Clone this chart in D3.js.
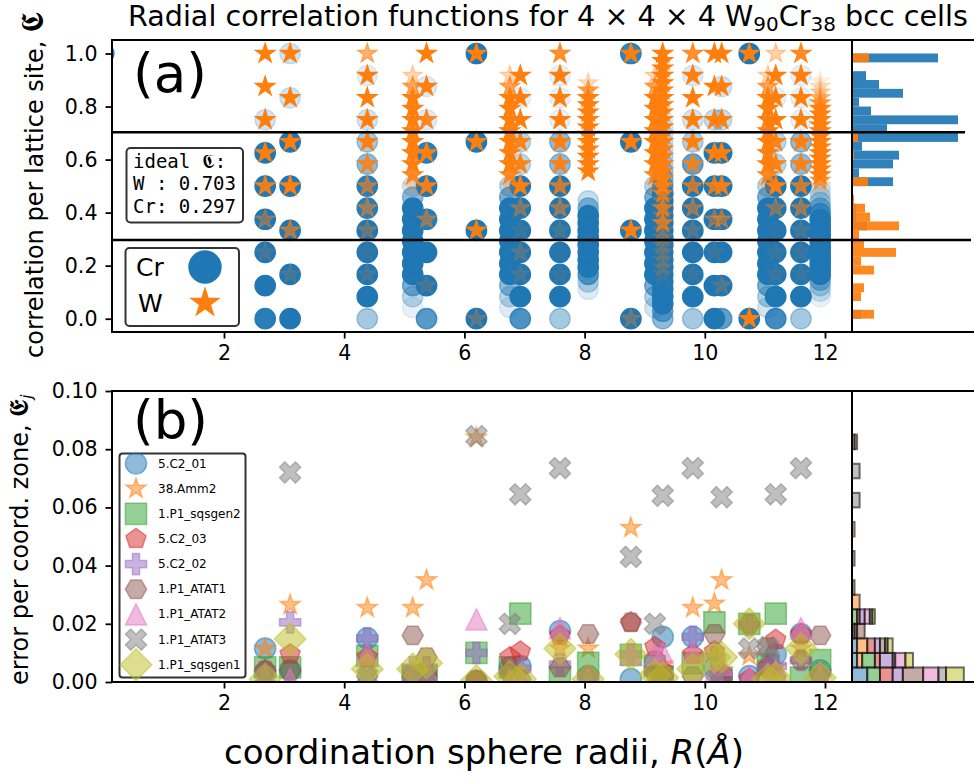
<!DOCTYPE html>
<html>
<head>
<meta charset="utf-8">
<script src="https://cdn.jsdelivr.net/npm/d3@7"></script>
<style>
html, body { margin: 0; padding: 0; background: #fff; }
svg { display: block; }
text { font-family: "DejaVu Sans", sans-serif; fill: #000; }
</style>
</head>
<body>
<script>
// correlation ladders, the values a shell can take
const v1 = [0, 1];
const v3 = [0, .333, .667, 1];
const v6 = [0, .167, .333, .5, .667, .833, 1];
const v8 = [0, .125, .25, .375, .5, .625, .75, .875, 1];
const v12 = [0, .083, .167, .25, .333, .417, .5, .583, .667, .75, .833, .917, 1];
const v24 = [0, .042, .083, .125, .167, .208, .25, .292, .333, .375, .417, .458, .5, .542, .583, .625, .667, .708, .75, .792, .833, .875, .917, .958, 1];
const v36 = [0, .028, .056, .083, .111, .139, .167, .194, .222, .25, .278, .306, .333, .361, .389, .417, .444, .472, .5, .528, .556, .583, .611, .639, .667, .694, .722, .75, .778, .806, .833, .861, .889, .917, .944, .972, 1];
const v48 = [0, .021, .042, .063, .083, .104, .125, .146, .167, .188, .208, .229, .25, .271, .292, .313, .333, .354, .375, .396, .417, .438, .458, .479, .5, .521, .542, .563, .583, .604, .625, .646, .667, .688, .708, .729, .75, .771, .792, .813, .833, .854, .875, .896, .917, .938, .958, .979, 1];

const shellR = [0, 2.685, 3.1, 4.384, 5.14, 5.37, 6.2, 6.756, 6.93, 7.59, 8.06, 8.77, 9.17, 9.3, 9.8, 10.16, 10.28, 10.74, 11.05, 11.18, 11.6, 11.92];
const shellLadder = [v1, v8, v6, v12, v24, v8, v3, v24, v12, v12, v36, v3, v24, v36, v12, v8, v8, v1, v24, v12, v12, v48];

// how often each ladder value occurs, 0..1, per shell
const crFreq = [
  [0, 1],
  [.95, 1, 1, 1, 1, 1, .2, 0, 0],
  [1, 1, 1, 1, 1, .2, .2],
  [.4, 1, 1, 1, 1, .95, .95, .5, .4, .2, 0, .12, 0],
  [0, .1, .3, .6, 1, 1, 1, 1, 1, 1, 1, .5, .2, 0, 0, 0, 0, 0, 0, 0, 0, 0, 0, 0, 0],
  [.75, 1, 1, .95, 1, .95, .15, .15, 0],
  [1, 1, 1, 1],
  [0, .15, .3, .5, 1, 1, 1, 1, 1, 1, 1, .6, .3, 0, 0, 0, 0, 0, 0, 0, 0, 0, 0, 0, 0],
  [.8, 1, 1, 1, 1, 1, 1, .3, .3, 0, .1, 0, 0],
  [.4, 1, 1, 1, 1, 1, 1, .5, .5, .1, .1, .1, 0],
  [0, 0, 0, 0, .15, .3, .7, 1, 1, 1, 1, 1, 1, 1, 1, .5, .25, 0, 0, 0, 0, 0, 0, 0, 0, 0, 0, 0, 0, 0, 0, 0, 0, 0, 0, 0, 0],
  [1, 1, 1, .9],
  [0, .2, .35, .6, 1, 1, 1, 1, 1, 1, 1, .6, .3, 0, 0, 0, 0, 0, 0, 0, 0, 0, 0, 0, 0],
  [.5, .6, 1, 1, 1, 1, 1, 1, 1, 1, 1, 1, 1, 1, 1, 1, 1, 1, .7, .5, .4, .25, .25, .2, .2, .15, .15, .1, 0, 0, 0, 0, 0, 0, 0, 0, 0],
  [.4, 1, 1, 1, 1, 1, 1, .7, .35, .2, 0, .15, 0],
  [1, 1, 1, 1, 1, 1, .25, 0, 0],
  [.7, 1, 1, 1, 1, 1, .25, .2, 0],
  [1, 1],
  [0, .2, .35, .6, 1, 1, 1, 1, 1, 1, 1, .6, .3, 0, 0, 0, 0, 0, 0, 0, 0, 0, 0, 0, 0],
  [.85, 1, 1, 1, 1, 1, 1, .3, .3, 0, .1, 0, 0],
  [.4, 1, 1, 1, 1, 1, 1, .5, .5, .1, .1, .1, 0],
  [0, 0, 0, 0, .1, .2, .3, .5, 1, 1, 1, 1, 1, 1, 1, 1, 1, 1, 1, .7, .5, .3, .2, .15, .1, 0, 0, 0, 0, 0, 0, 0, 0, 0, 0, 0, 0, 0, 0, 0, 0, 0, 0, 0, 0, 0, 0, 0, 0]
];
const wFreq = [
  [0, 0],
  [0, 0, .15, .4, .9, 1, 1, 1, 1],
  [0, .15, .6, 1, 1, 1, 1],
  [0, 0, .15, .08, .3, .5, .6, .85, 1, 1, 1, 1, .6],
  [0, 0, 0, 0, 0, 0, 0, 0, 0, 0, 0, 0, .2, .9, 1, 1, 1, 1, 1, 1, 1, .7, .3, 0, 0],
  [0, .15, 0, .45, .95, 1, .9, 1, 1],
  [.25, .95, 1, 1],
  [0, 0, 0, 0, 0, 0, 0, 0, 0, 0, 0, 0, .2, .9, 1, 1, 1, 1, 1, 1, 1, .7, .3, 0, 0],
  [0, 0, .15, .2, .1, .4, 1, .95, .95, 1, 1, 1, 0],
  [0, 0, .1, .05, .15, .5, .75, .95, 1, 1, 1, 1, .85],
  [0, 0, 0, 0, 0, 0, 0, 0, 0, 0, 0, 0, 0, 0, 0, 0, 0, 0, 0, 0, 1, 1, 1, 1, 1, 1, 1, 1, 1, 1, 1, .7, .25, 0, 0, 0, 0],
  [.3, 1, 1, 1],
  [0, 0, 0, 0, 0, 0, 0, 0, 0, 0, 0, 0, .2, .9, 1, 1, 1, 1, 1, 1, 1, .7, .3, 0, 0],
  [0, 0, 0, 0, 0, 0, .1, .15, .15, .15, .15, .2, .2, .7, .3, .7, .3, .7, .9, 1, 1, 1, 1, 1, 1, 1, 1, 1, 1, 1, 1, 1, 1, 1, 1, 1, 1],
  [0, 0, .1, .05, .2, .5, .7, .85, 1, 1, 1, 1, .85],
  [0, 0, .1, .4, .8, 1, 1, 1, 1],
  [0, .2, 0, .5, .9, 1, 1, 1, 1],
  [1, 1],
  [0, 0, 0, 0, 0, 0, 0, 0, 0, 0, 0, 0, .2, .9, 1, 1, 1, 1, 1, 1, 1, .7, .3, 0, 0],
  [0, 0, .1, .1, .05, .4, 1, .95, .95, 1, 1, 1, .35],
  [0, 0, .1, .1, .15, .5, .75, .95, 1, 1, 1, 1, .9],
  [0, 0, 0, 0, 0, 0, 0, 0, 0, 0, 0, 0, 0, 0, 0, 0, 0, 0, 0, 0, 0, 0, 0, 0, .15, .7, 1, 1, 1, 1, 1, 1, 1, 1, 1, 1, 1, 1, 1, .7, .5, .3, .2, .1, 0, 0, 0, 0, 0]
];

// side histogram of (a), 30 bins from 0 to 1, counts
const crHist = [9, 0, 0, 0, 0, 0, 0, 0, 0, 0, 15, 4, 4, 0, 0, 41, 7, 41, 47, 10, 106, 35, 106, 19, 7, 51, 27, 14, 0, 86];
const wHist = [22, 0, 9, 12, 0, 22, 9, 44, 12, 7, 47, 18, 13, 2, 0, 16, 0, 0, 2, 0, 6, 0, 0, 0, 0, 0, 0, 0, 0, 17];

const idealW = 0.703;
const idealCr = 0.297;

// panel (b), error per shell for each cell, shellR without the origin
const errorR = shellR.slice(1);
const seriesNames = ["5.C2_01", "38.Amm2", "1.P1_sqsgen2", "5.C2_03", "5.C2_02", "1.P1_ATAT1", "1.P1_ATAT2", "1.P1_ATAT3", "1.P1_sqsgen1"];
const seriesColors = ["#1f77b4", "#ff7f0e", "#2ca02c", "#d62728", "#9467bd", "#8c564b", "#e377c2", "#7f7f7f", "#bcbd22"];
const seriesMarkers = ["circle", "star", "square", "pentagon", "plus", "hexagon", "triangle", "cross", "diamond"];
const seriesErrors = [
  [.0115, .004, .015, .002, .002, .0005, .005, .0055, .0175, .002, .001, .007, .0155, .0155, .005, .002, .002, .005, .0095, .0165, .004],
  [.0115, .0265, .0255, .0255, .035, .084, .003, .003, .0115, .0115, .053, .004, .006, .0255, .027, .035, .009, .006, .005, .0115, .003],
  [.005, .005, .009, .002, .002, .01, .005, .0235, .0015, .0066, .0093, .0055, .002, .0065, .0205, .0015, .02, .006, .0235, .0015, .0075],
  [.004, .0095, .0085, .002, .002, .0005, .0085, .0105, .016, .002, .0205, .012, .004, .0095, .0105, .003, .001, .005, .0145, .0165, .002],
  [.003, .0205, .015, .005, .005, .01, .004, .0045, .006, .002, .0095, .004, .002, .0155, .0085, .002, .0195, .005, .0055, .0075, .003],
  [.004, .004, .002, .016, .0085, .0005, .003, .001, .005, .0165, .0205, .003, .002, .002, .0165, .001, .02, .012, .002, .0075, .016],
  [.002, .001, .0095, .004, .004, .0215, .001, .002, .0185, .001, .0095, .0095, .01, .01, .003, .006, .002, .002, .004, .0185, .002],
  [.002, .072, .002, .002, .002, .0845, .02, .0645, .0735, .001, .043, .02, .064, .0735, .0005, .0635, .0115, .012, .0645, .0735, .001],
  [.001, .0148, .0045, .0045, .0065, .0005, .002, .001, .0115, .001, .0095, .0025, .0015, .0045, .0085, .0085, .02, .001, .0015, .0115, .0015]
];

// side histogram of (b), bins of 0.005, counts for each cell in the order above
const errorHist = [
  [6, 2, 2, 1, 0, 0, 0, 0, 0, 0, 0, 0, 0, 0, 0, 0, 0],
  [0, 2, 4, 0, 0, 3, 0, 0, 0, 0, 1, 0, 0, 0, 0, 0, 1],
  [5, 5, 0, 0, 2, 0, 0, 0, 0, 0, 0, 0, 0, 0, 0, 0, 0],
  [5, 2, 3, 1, 1, 0, 0, 0, 0, 0, 0, 0, 0, 0, 0, 0, 0],
  [4, 5, 2, 0, 2, 0, 0, 0, 0, 0, 0, 0, 0, 0, 0, 0, 0],
  [8, 1, 2, 3, 0, 0, 1, 0, 0, 0, 0, 0, 0, 0, 0, 0, 0],
  [6, 4, 0, 0, 2, 0, 0, 0, 0, 0, 0, 0, 0, 0, 0, 0, 0],
  [3, 0, 1, 0, 1, 0, 0, 0, 1, 0, 0, 0, 3, 0, 3, 0, 1],
  [7, 3, 2, 0, 1, 0, 0, 0, 0, 0, 0, 0, 0, 0, 0, 0, 0]
];

const width = 974, height = 778;
const mainLeft = 112, mainRight = 852, histRight = 974;

const svg = d3.select("body").append("svg")
  .attr("width", width)
  .attr("height", height)
  .attr("viewBox", [0, 0, width, height]);

const x = d3.scaleLinear().domain([2, 12]).range([224, 825]);
const yA = d3.scaleLinear().domain([0, 1]).range([318.7, 53.5]);
const yB = d3.scaleLinear().domain([0, .1]).range([682, 391]);
const histAx = d3.scaleLinear().domain([0, 122]).range([mainRight, histRight]);
const histBx = d3.scaleLinear().domain([0, 48]).range([mainRight, 974]);
const freqAlpha = d3.scaleLinear().domain([0, 1]).range([0, 1]);

function polygon(n, r, rot) {
  let pts = d3.range(n).map(i => {
    let a = rot + i * 2 * Math.PI / n;
    return [r * Math.sin(a), -r * Math.cos(a)];
  });
  return "M" + pts.join("L") + "Z";
}

// same shapes as the matplotlib markers, r is half the marker size
const markerPath = {
  circle: r => `M${r},0A${r},${r} 0 1,1 ${-r},0A${r},${r} 0 1,1 ${r},0Z`,
  star: r => {
    let pts = d3.range(10).map(i => {
      let a = i * Math.PI / 5, rr = i % 2 ? r * .382 : r;
      return [rr * Math.sin(a), -rr * Math.cos(a)];
    });
    return "M" + pts.join("L") + "Z";
  },
  square: r => `M${-r},${-r}H${r}V${r}H${-r}Z`,
  pentagon: r => polygon(5, r, 0),
  plus: r => {
    let t = r / 3;
    return `M${-t},${-r}H${t}V${-t}H${r}V${t}H${t}V${r}H${-t}V${t}H${-r}V${-t}H${-t}Z`;
  },
  hexagon: r => polygon(6, r, Math.PI / 2),
  triangle: r => `M0,${-r}L${r},${r}H${-r}Z`,
  cross: r => {
    let t = r / 2;
    return `M${-r + t},${-r}L0,${-t}L${r - t},${-r}L${r},${-r + t}L${t},0L${r},${r - t}L${r - t},${r}L0,${t}L${-r + t},${r}L${-r},${r - t}L${-t},0L${-r},${-r + t}Z`;
  },
  diamond: r => `M0,${-r * 1.45}L${r * 1.45},0L0,${r * 1.45}L${-r * 1.45},0Z`
};

svg.append("defs").append("clipPath").attr("id", "clipA")
  .append("rect").attr("x", mainLeft).attr("y", 40).attr("width", mainRight - mainLeft).attr("height", 292);
svg.select("defs").append("clipPath").attr("id", "clipB")
  .append("rect").attr("x", mainLeft).attr("y", 391).attr("width", mainRight - mainLeft).attr("height", 291);

// ------- panel (a) -------
function shellPoints(freqs) {
  let pts = [];
  shellR.forEach((r, i) => {
    shellLadder[i].forEach((v, k) => {
      if (freqs[i][k] > 0) pts.push({ r: r, v: v, f: freqs[i][k] });
    });
  });
  return pts;
}

const scatterA = svg.append("g").attr("clip-path", "url(#clipA)");

scatterA.append("g").selectAll("path")
  .data(shellPoints(crFreq))
  .join("path")
  .attr("d", markerPath.circle(10.2))
  .attr("transform", d => `translate(${x(d.r)},${yA(d.v)})`)
  .attr("fill", seriesColors[0])
  .attr("stroke", seriesColors[0])
  .attr("stroke-width", 1.3)
  .attr("fill-opacity", d => freqAlpha(d.f))
  .attr("stroke-opacity", d => freqAlpha(d.f));

scatterA.append("g").selectAll("path")
  .data(shellPoints(wFreq))
  .join("path")
  .attr("d", markerPath.star(10.2))
  .attr("transform", d => `translate(${x(d.r)},${yA(d.v)})`)
  .attr("fill", seriesColors[1])
  .attr("stroke", seriesColors[1])
  .attr("stroke-width", 1.3)
  .attr("fill-opacity", d => freqAlpha(d.f))
  .attr("stroke-opacity", d => freqAlpha(d.f));

// side histogram, Cr under W
const binA = d3.scaleLinear().domain([0, 30]).range([yA(0), yA(1)]);
[[crHist, seriesColors[0]], [wHist, seriesColors[1]]].forEach(h => {
  svg.append("g").selectAll("rect")
    .data(h[0])
    .join("rect")
    .attr("x", histAx(0))
    .attr("y", (d, i) => binA(i + 1))
    .attr("width", d => histAx(d) - histAx(0))
    .attr("height", binA(0) - binA(1))
    .attr("fill", h[1])
    .attr("fill-opacity", .92);
});

// ideal values
svg.append("line").attr("x1", mainLeft).attr("x2", 965)
  .attr("y1", yA(idealW)).attr("y2", yA(idealW))
  .attr("stroke", "#000").attr("stroke-width", 2.5);
svg.append("line").attr("x1", mainLeft).attr("x2", 971)
  .attr("y1", yA(idealCr)).attr("y2", yA(idealCr))
  .attr("stroke", "#000").attr("stroke-width", 2.5);

// ------- panel (b) -------
const scatterB = svg.append("g").attr("clip-path", "url(#clipB)");

seriesErrors.forEach((vals, s) => {
  scatterB.append("g").selectAll("path")
    .data(vals)
    .join("path")
    .attr("d", markerPath[seriesMarkers[s]](s == 8 ? 10.9 : 10.6))
    .attr("transform", (d, i) => `translate(${x(errorR[i])},${yB(d)})`)
    .attr("fill", seriesColors[s])
    .attr("stroke", seriesColors[s])
    .attr("stroke-width", 1.5)
    .attr("fill-opacity", .5)
    .attr("stroke-opacity", .5);
});

// stacked side histogram
const binB = d3.scaleLinear().domain([0, 20]).range([yB(0), yB(.1)]);
const histRows = [];
errorHist[0].forEach((_, b) => {
  let sum = 0;
  errorHist.forEach((row, s) => {
    if (row[b] > 0) histRows.push({ bin: b, s: s, x0: sum, n: row[b] });
    sum += row[b];
  });
});
svg.append("g").selectAll("rect")
  .data(histRows)
  .join("rect")
  .attr("x", d => histBx(d.x0))
  .attr("y", d => binB(d.bin + 1))
  .attr("width", d => histBx(d.n) - histBx(0))
  .attr("height", binB(0) - binB(1))
  .attr("fill", d => d3.color(seriesColors[d.s]).copy({ opacity: .5 }))
  .attr("stroke", "rgba(0,0,0,.55)")
  .attr("stroke-width", 2);

// ------- frames and axes -------
function frame(top, bottom) {
  svg.append("path")
    .attr("d", `M${histRight},${top}H${mainLeft}V${bottom}H${histRight}M${mainRight},${top}V${bottom}`)
    .attr("fill", "none").attr("stroke", "#000").attr("stroke-width", 2);
}
frame(40, 332);
frame(391, 682);

function styleAxis(g) {
  g.select(".domain").remove();
  g.selectAll("line").attr("stroke", "#000").attr("stroke-width", 1.8);
  g.selectAll("text").style("font-size", "20.6px");
}

[332, 682].forEach(yy => {
  svg.append("g")
    .attr("transform", `translate(0,${yy})`)
    .call(d3.axisBottom(x).tickValues([2, 4, 6, 8, 10, 12]).tickFormat(d3.format("d")).tickSize(6.5).tickPadding(7))
    .call(styleAxis);
});
svg.append("g")
  .attr("transform", `translate(${mainLeft},0)`)
  .call(d3.axisLeft(yA).tickValues([0, .2, .4, .6, .8, 1]).tickFormat(d3.format(".1f")).tickSize(6.5).tickPadding(8))
  .call(styleAxis);
svg.append("g")
  .attr("transform", `translate(${mainLeft},0)`)
  .call(d3.axisLeft(yB).tickValues([0, .02, .04, .06, .08, .1]).tickFormat(d3.format(".2f")).tickSize(6.5).tickPadding(8))
  .call(styleAxis);

// ------- text -------
const title = svg.append("text").attr("x", 128).attr("y", 26).style("font-size", "28.6px");
title.append("tspan").text("Radial correlation functions for 4 × 4 × 4 W");
title.append("tspan").text("90").attr("dy", 4.5).style("font-size", "20px");
title.append("tspan").text("Cr").attr("dy", -4.5);
title.append("tspan").text("38").attr("dy", 4.5).style("font-size", "20px");
title.append("tspan").text(" bcc cells").attr("dy", -4.5);

svg.append("text").attr("x", 133).attr("y", 92).style("font-size", "53px").text("(a)");
svg.append("text").attr("x", 133).attr("y", 439).style("font-size", "53px").text("(b)");

const yLabA = svg.append("text")
  .attr("transform", "translate(43,358) rotate(-90)")
  .style("font-size", "24px");
yLabA.append("tspan").text("correlation per lattice site, ");
yLabA.append("tspan").text("𝕮").style("font-size", "32px");

const yLabB = svg.append("text")
  .attr("transform", "translate(28,685) rotate(-90)")
  .style("font-size", "24px");
yLabB.append("tspan").text("error per coord. zone, ");
yLabB.append("tspan").text("𝕰").style("font-size", "27px");
yLabB.append("tspan").text("j").attr("dy", 4).style("font-size", "15px").style("font-style", "italic");

const xLab = svg.append("text")
  .attr("x", 484).attr("y", 764)
  .attr("text-anchor", "middle")
  .style("font-size", "34px");
xLab.append("tspan").text("coordination sphere radii, ");
xLab.append("tspan").text("R").style("font-style", "italic");
xLab.append("tspan").text("(");
xLab.append("tspan").text("Å").style("font-style", "italic");
xLab.append("tspan").text(")");

// ideal box
svg.append("rect").attr("x", 126.5).attr("y", 148).attr("width", 116.5).attr("height", 74.5).attr("rx", 4)
  .attr("fill", "#fff").attr("fill-opacity", .8).attr("stroke", "#333").attr("stroke-width", 2);
["ideal 𝕮:", "W : " + idealW.toFixed(3), "Cr: " + idealCr.toFixed(3)].forEach((t, i) => {
  svg.append("text").attr("x", 133).attr("y", 168 + i * 22.3)
    .style("font-family", "'DejaVu Sans Mono', monospace")
    .style("font-size", "19px")
    .text(t);
});

// species legend
svg.append("rect").attr("x", 125.5).attr("y", 248).attr("width", 113.5).attr("height", 78).attr("rx", 4)
  .attr("fill", "#fff").attr("stroke", "#333").attr("stroke-width", 2);
svg.append("text").attr("x", 136).attr("y", 276).style("font-size", "25px").text("Cr");
svg.append("text").attr("x", 138).attr("y", 312).style("font-size", "25px").text("W");
svg.append("path").attr("d", markerPath.circle(16.7)).attr("transform", "translate(205,267)").attr("fill", seriesColors[0]);
svg.append("path").attr("d", markerPath.star(16.7)).attr("transform", "translate(205,303)").attr("fill", seriesColors[1]);

// cell legend
svg.append("rect").attr("x", 119.5).attr("y", 453.5).attr("width", 126).attr("height", 224).attr("rx", 3)
  .attr("fill", "#fff").attr("fill-opacity", .8).attr("stroke", "#333").attr("stroke-width", 2);
seriesNames.forEach((name, s) => {
  let ly = 463.5 + s * 25.15;
  svg.append("path")
    .attr("d", markerPath[seriesMarkers[s]](s == 8 ? 10.9 : 10.6))
    .attr("transform", `translate(136,${ly})`)
    .attr("fill", seriesColors[s]).attr("stroke", seriesColors[s]).attr("stroke-width", 1.5)
    .attr("fill-opacity", .5).attr("stroke-opacity", .5);
  svg.append("text").attr("x", 158).attr("y", ly + 4).style("font-size", "12px").text(name);
});
</script>
</body>
</html>
